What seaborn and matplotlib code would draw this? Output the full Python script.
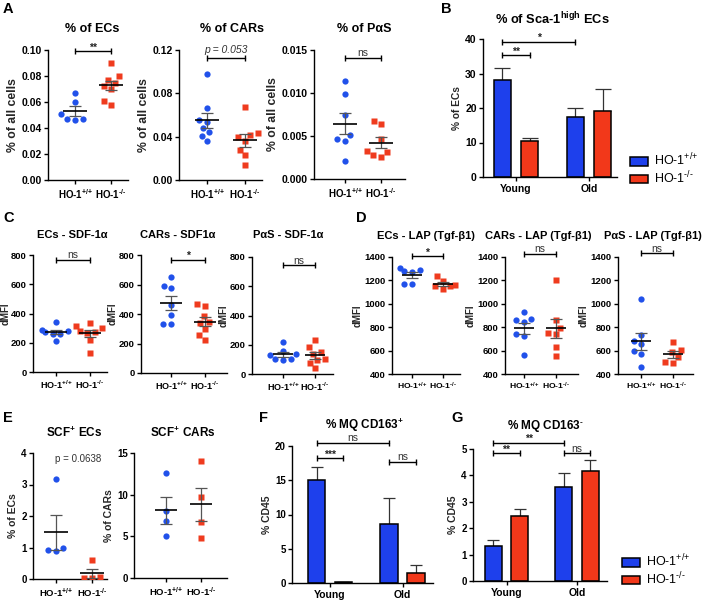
import numpy as np
import pandas as pd
import matplotlib
matplotlib.use("Agg")
import matplotlib.pyplot as plt
import matplotlib.transforms as mtrans
from matplotlib.patches import Patch
from matplotlib.ticker import FormatStrFormatter
import seaborn as sns

# ---------------- data ----------------
genotypes = ["HO-1+/+", "HO-1-/-"]
ages = ["Young", "Old"]

# A
ec_pct_wt = [0.0672, 0.0600, 0.0510, 0.0470, 0.0465, 0.0470]
ec_pct_ko = [0.090, 0.080, 0.077, 0.075, 0.072, 0.070, 0.061, 0.058]
car_pct_wt = [0.098, 0.066, 0.0558, 0.0537, 0.048, 0.044, 0.041, 0.0357]
car_pct_ko = [0.067, 0.0432, 0.0414, 0.0395, 0.036, 0.028, 0.0227, 0.0143]
pas_pct_wt = [0.0114, 0.0099, 0.0075, 0.0051, 0.0046, 0.0044, 0.0021]
pas_pct_ko = [0.0067, 0.0064, 0.0047, 0.0033, 0.0031, 0.0028, 0.0026]

# B
sca_mean_wt = [28.0, 17.5]
sca_sem_wt = [3.6, 2.6]
sca_mean_ko = [10.3, 19.1]
sca_sem_ko = [1.1, 6.5]

# C
ec_sdf_wt = [340, 285, 280, 275, 262, 258, 212]
ec_sdf_ko = [336, 315, 300, 278, 275, 268, 220, 130]
car_sdf_wt = [648, 589, 573, 460, 390, 335, 330]
car_sdf_ko = [468, 455, 385, 345, 340, 300, 255, 225]
pas_sdf_wt = [222, 158, 140, 130, 102, 100, 98]
pas_sdf_ko = [235, 185, 150, 140, 105, 95, 75, 38]

# D
ec_lap_wt = [1310, 1292, 1280, 1275, 1172, 1170]
ec_lap_ko = [1240, 1195, 1160, 1150, 1148, 1130]
car_lap_wt = [932, 870, 860, 845, 740, 722, 560]
car_lap_ko = [1207, 865, 795, 750, 740, 628, 553]
pas_lap_wt = [1042, 732, 686, 660, 595, 575, 456]
pas_lap_ko = [670, 605, 590, 545, 500, 494]

# E
scf_ec_wt = [3.17, 0.97, 0.92, 0.88]
scf_ec_ko = [0.60, 0.06, 0.04, 0.02]
scf_car_wt = [12.65, 8.05, 6.8, 5.08]
scf_car_ko = [14.1, 9.7, 6.7, 4.85]

# F
cd163p_mean_wt = [15.1, 8.55]
cd163p_sem_wt = [1.9, 3.8]
cd163p_mean_ko = [0.15, 1.5]
cd163p_sem_ko = [0.05, 1.1]

# G
cd163n_mean_wt = [1.32, 3.56]
cd163n_sem_wt = [0.25, 0.54]
cd163n_mean_ko = [2.48, 4.15]
cd163n_sem_ko = [0.23, 0.44]

# ---------------- style ----------------
sns.set_theme(style="ticks")
plt.rcParams["font.family"] = ["Liberation Sans", "DejaVu Sans"]
plt.rcParams.update({
    "mathtext.fontset": "custom",
    "mathtext.rm": "Liberation Sans",
    "mathtext.bf": "Liberation Sans:bold",
    "mathtext.it": "Liberation Sans:italic",
    "axes.linewidth": 1.0,
    "axes.edgecolor": "black",
    "xtick.major.width": 1.0, "ytick.major.width": 1.0,
    "xtick.major.size": 3, "ytick.major.size": 3,
    "xtick.major.pad": 2, "ytick.major.pad": 1.5,
    "xtick.color": "black", "ytick.color": "black",
    "text.color": "black",
})

W, H = 708, 602
fig = plt.figure(figsize=(W / 100, H / 100), dpi=100)

BLUE = "#2151EA"
RED = "#EF3B1E"
BAR_BLUE = "#1E40EC"
BAR_RED = "#F2381A"

HY = "\u2010"
TICK_WT = r"HO-1$^{\mathbf{{+}/{+}}}$"
TICK_KO = r"HO-1$^{\mathbf{" + HY + "/" + HY + "}}$"
LEG_WT = r"HO-1$^{\mathrm{{+}/{+}}}$"
LEG_KO = r"HO-1$^{\mathrm{" + HY + "/" + HY + "}}$"


def make_ax(spine, end, top, bot):
    return fig.add_axes([spine / W, 1 - bot / H, (end - spine) / W, (bot - top) / H])


def style_ax(ax, ylabel, tfs, xfs, ylfs, lpad=2):
    sns.despine(ax=ax)
    ax.tick_params(axis="y", labelsize=tfs)
    ax.tick_params(axis="x", labelsize=xfs)
    for lab in ax.get_xticklabels() + ax.get_yticklabels():
        lab.set_fontweight("bold")
    ax.set_xlabel("")
    ax.set_ylabel(ylabel, fontsize=ylfs, fontweight="bold", labelpad=lpad)
    ax.set_facecolor("none")


def bracket(ax, x0, x1, yfrac, text, kind="ns"):
    trans = mtrans.blended_transform_factory(ax.transData, ax.transAxes)
    ax.plot([x0, x1], [yfrac, yfrac], transform=trans, color="black", lw=1.0,
            marker="|", ms=5, mew=1.0, clip_on=False, zorder=6)
    if kind == "star":
        ax.annotate(text, xy=((x0 + x1) / 2, yfrac), xycoords=trans, xytext=(0, 0.3),
                    textcoords="offset points", ha="center", va="baseline",
                    fontsize=7.5, fontweight="bold", color="#222222", annotation_clip=False)
    elif kind == "p":
        ax.annotate(text, xy=((x0 + x1) / 2, yfrac), xycoords=trans, xytext=(0, 3.2),
                    textcoords="offset points", ha="center", va="baseline",
                    fontsize=7.5, style="italic", color="#333333", annotation_clip=False)
    else:
        ax.annotate(text, xy=((x0 + x1) / 2, yfrac), xycoords=trans, xytext=(0, 1.2),
                    textcoords="offset points", ha="center", va="baseline",
                    fontsize=7.5, color="#333333", annotation_clip=False)


def scatter_panel(px, wt, ko, yticks, fmt, ylabel, tfs=7, xfs=7, ylfs=7.5, lpad=2):
    spine, c0, c1, end, top, bot = px
    ax = make_ax(spine, end, top, bot)
    df = pd.DataFrame({
        "genotype": [genotypes[0]] * len(wt) + [genotypes[1]] * len(ko),
        "value": list(wt) + list(ko),
    })
    for g, col, mk in zip(genotypes, [BLUE, RED], ["o", "s"]):
        sns.swarmplot(data=df[df["genotype"] == g], x="genotype", y="value",
                      order=genotypes, color=col, marker=mk, size=4.5,
                      linewidth=0.9, edgecolor=(1, 1, 1, 0), ax=ax, zorder=3)
    for i, g in enumerate(genotypes):
        v = df.loc[df["genotype"] == g, "value"].to_numpy()
        m = v.mean()
        se = v.std(ddof=1) / np.sqrt(len(v))
        ax.hlines(m, i - 0.32, i + 0.32, color="black", lw=1.2, zorder=5)
        ax.errorbar(i, m, yerr=se, fmt="none", ecolor="#555555", elinewidth=0.9,
                    capsize=4, capthick=0.9, zorder=4)
    s = c1 - c0
    ax.set_xlim((spine - c0) / s, 1 + (end - c1) / s)
    ax.set_ylim(yticks[0], yticks[-1])
    ax.set_yticks(yticks)
    ax.yaxis.set_major_formatter(FormatStrFormatter(fmt))
    ax.set_xticks([0, 1])
    ax.set_xticklabels([TICK_WT, TICK_KO])
    style_ax(ax, ylabel, tfs, xfs, ylfs, lpad)
    return ax


def bar_panel(px, mean_wt, sem_wt, mean_ko, sem_ko, yticks, ylabel, capsize,
              tfs=7, xfs=7.5, ylfs=7.5):
    spine, c0, c1, end, top, bot = px
    ax = make_ax(spine, end, top, bot)
    df = pd.DataFrame({
        "age": ages * 2,
        "genotype": [genotypes[0]] * 2 + [genotypes[1]] * 2,
        "mean": list(mean_wt) + list(mean_ko),
        "sem": list(sem_wt) + list(sem_ko),
    })
    sns.barplot(data=df, x="age", y="mean", hue="genotype", order=ages,
                hue_order=genotypes, palette=[BAR_BLUE, BAR_RED], errorbar=None,
                width=0.74, gap=0.35, edgecolor="black", linewidth=1.1,
                saturation=1, legend=False, ax=ax)
    centers = {}
    for p in ax.patches:
        cx = p.get_x() + p.get_width() / 2
        h = p.get_height()
        row = df.iloc[int((df["mean"] - h).abs().argmin())]
        centers[(row["age"], row["genotype"])] = cx
        ax.errorbar(cx, h, yerr=[[0], [row["sem"]]], fmt="none", ecolor="#333333",
                    elinewidth=0.9, capsize=capsize, capthick=0.9, zorder=0.8)
    s = c1 - c0
    ax.set_xlim((spine - c0) / s, 1 + (end - c1) / s)
    ax.set_ylim(yticks[0], yticks[-1])
    ax.set_yticks(yticks)
    ax.set_xticks([0, 1])
    ax.set_xticklabels(ages)
    style_ax(ax, ylabel, tfs, xfs, ylfs)
    return ax, centers


def title(x, y, text, fs=8.5):
    fig.text(x / W, 1 - y / H, text, ha="center", va="baseline", fontsize=fs,
             fontweight="bold")


def letter(x, y, text):
    fig.text(x / W, 1 - y / H, text, ha="left", va="top", fontsize=10.5,
             fontweight="bold")


def legend_at(x, y):
    handles = [Patch(facecolor=BAR_BLUE, edgecolor="black", lw=1.1, label=LEG_WT),
               Patch(facecolor=BAR_RED, edgecolor="black", lw=1.1, label=LEG_KO)]
    fig.legend(handles=handles, loc="upper left", bbox_to_anchor=(x / W, 1 - y / H),
               frameon=False, fontsize=9, handlelength=1.45, handleheight=0.7,
               handletextpad=0.5, labelspacing=0.1, borderpad=0, borderaxespad=0)


# ---------------- A ----------------
axA1 = scatter_panel((48, 75, 111, 128, 50, 180), ec_pct_wt, ec_pct_ko,
                     [0, 0.02, 0.04, 0.06, 0.08, 0.10], "%.2f", "% of all cells",
                     tfs=7.5, xfs=7, ylfs=8.8)
bracket(axA1, 0, 1, 0.99, "**", "star")
axA2 = scatter_panel((179, 207, 245, 262, 50, 180), car_pct_wt, car_pct_ko,
                     [0, 0.04, 0.08, 0.12], "%.2f", "% of all cells",
                     tfs=7.5, xfs=7, ylfs=8.8)
bracket(axA2, 0, 1, 0.94, "p = 0.053", "p")
axA3 = scatter_panel((314, 345, 381, 405, 50, 179), pas_pct_wt, pas_pct_ko,
                     [0, 0.005, 0.010, 0.015], "%.3f", "% of all cells",
                     tfs=7.5, xfs=7, ylfs=8.8)
bracket(axA3, 0, 1, 0.94, "ns")
title(92, 32, "% of ECs", 9)
title(232, 32, "% of CARs", 9)
title(364, 32, "% of P\u03b1S", 9)

# ---------------- B ----------------
axB, cB = bar_panel((483, 516, 589, 617, 39, 177), sca_mean_wt, sca_sem_wt,
                    sca_mean_ko, sca_sem_ko, [0, 10, 20, 30, 40], "% of ECs", 6,
                    tfs=7.5, xfs=7.5, ylfs=7.3)
bracket(axB, cB[("Young", genotypes[0])], cB[("Old", genotypes[0])], 0.98, "*", "star")
bracket(axB, cB[("Young", genotypes[0])], cB[("Young", genotypes[1])], 0.884, "**", "star")
title(552, 24, r"% of Sca-1$^{\mathbf{high}}$ ECs", 9.3)
legend_at(630, 152)

# ---------------- C ----------------
sdf_ticks = [0, 200, 400, 600, 800]
axC1 = scatter_panel((33, 56, 90, 107, 255, 372), ec_sdf_wt, ec_sdf_ko, sdf_ticks, "%d", "dMFI",
                     tfs=6.8, xfs=6.5, ylfs=7, lpad=0.5)
bracket(axC1, 0, 1, 0.957, "ns")
axC2 = scatter_panel((141, 171, 205, 227, 255, 373), car_sdf_wt, car_sdf_ko, sdf_ticks, "%d", "dMFI",
                     tfs=6.8, xfs=6.5, ylfs=7, lpad=1)
bracket(axC2, 0, 1, 0.96, "*", "star")
axC3 = scatter_panel((252, 283, 315, 333, 257, 374), pas_sdf_wt, pas_sdf_ko, sdf_ticks, "%d", "dMFI",
                     tfs=6.8, xfs=6.5, ylfs=7, lpad=1)
bracket(axC3, 0, 1, 0.93, "ns")
title(72, 238, "ECs - SDF-1\u03b1", 8)
title(178, 238, "CARs - SDF1\u03b1", 8)
title(288, 238, "P\u03b1S - SDF-1\u03b1", 8)

# ---------------- D ----------------
lap_ticks = [400, 600, 800, 1000, 1200, 1400]
axD1 = scatter_panel((392, 412, 443, 460, 257, 374), ec_lap_wt, ec_lap_ko, lap_ticks, "%d", "dMFI",
                     tfs=6.8, xfs=6.1, ylfs=7, lpad=1)
bracket(axD1, 0, 1, 1.005, "*", "star")
axD2 = scatter_panel((505, 524, 556, 578, 257, 374), car_lap_wt, car_lap_ko, lap_ticks, "%d", "dMFI",
                     tfs=6.8, xfs=6.1, ylfs=7, lpad=1)
bracket(axD2, 0, 1, 1.026, "ns")
axD3 = scatter_panel((618, 641, 673, 693, 257, 374), pas_lap_wt, pas_lap_ko, lap_ticks, "%d", "dMFI",
                     tfs=6.8, xfs=6.1, ylfs=7, lpad=1)
bracket(axD3, 0, 1, 1.03, "ns")
title(426, 239, "ECs - LAP (Tgf-\u03b21)", 8)
title(538, 239, "CARs - LAP (Tgf-\u03b21)", 8)
title(653, 239, "P\u03b1S - LAP (Tgf-\u03b21)", 8)

# ---------------- E ----------------
axE1 = scatter_panel((33, 56, 92, 107, 453, 579), scf_ec_wt, scf_ec_ko, [0, 1, 2, 3, 4], "%d", "% of ECs",
                     xfs=6.8)
axE1.annotate("p = 0.0638", xy=(0.62, 0.955),
              xycoords=mtrans.blended_transform_factory(axE1.transData, axE1.transAxes),
              ha="center", va="center", fontsize=7, color="#333333")
axE2 = scatter_panel((134, 166, 201, 227, 453, 578), scf_car_wt, scf_car_ko, [0, 5, 10, 15], "%d", "% of CARs",
                     xfs=6.8)
title(74, 437, r"SCF$^{\mathbf{+}}$ ECs")
title(183, 437, r"SCF$^{\mathbf{+}}$ CARs")

# ---------------- F ----------------
axF, cF = bar_panel((292, 330, 402.5, 433, 446, 583), cd163p_mean_wt, cd163p_sem_wt,
                    cd163p_mean_ko, cd163p_sem_ko, [0, 5, 10, 15, 20], "% CD45", 4.5)
bracket(axF, cF[("Young", genotypes[0])], cF[("Old", genotypes[0])], 1.024, "ns")
bracket(axF, cF[("Young", genotypes[0])], cF[("Young", genotypes[1])], 0.91, "***", "star")
bracket(axF, cF[("Old", genotypes[0])], cF[("Old", genotypes[1])], 0.885, "ns")
title(365, 429, r"% MQ CD163$^{\mathbf{+}}$")

# ---------------- G ----------------
axG, cG = bar_panel((473, 506.5, 577, 607, 449, 581), cd163n_mean_wt, cd163n_sem_wt,
                    cd163n_mean_ko, cd163n_sem_ko, [0, 1, 2, 3, 4, 5], "% CD45", 4.5)
bracket(axG, cG[("Young", genotypes[0])], cG[("Old", genotypes[0])], 1.048, "**", "star")
bracket(axG, cG[("Young", genotypes[0])], cG[("Young", genotypes[1])], 0.967, "**", "star")
bracket(axG, cG[("Old", genotypes[0])], cG[("Old", genotypes[1])], 0.967, "ns")
title(546, 429, r"% MQ CD163$^{\mathbf{" + HY + "}}$")
legend_at(622, 553)

# ---------------- panel letters ----------------
letter(3, 2, "A")
letter(441, 2, "B")
letter(3, 211, "C")
letter(356, 211, "D")
letter(3, 411, "E")
letter(259, 411, "F")
letter(451, 411, "G")

fig.savefig("out.png", dpi=100)
